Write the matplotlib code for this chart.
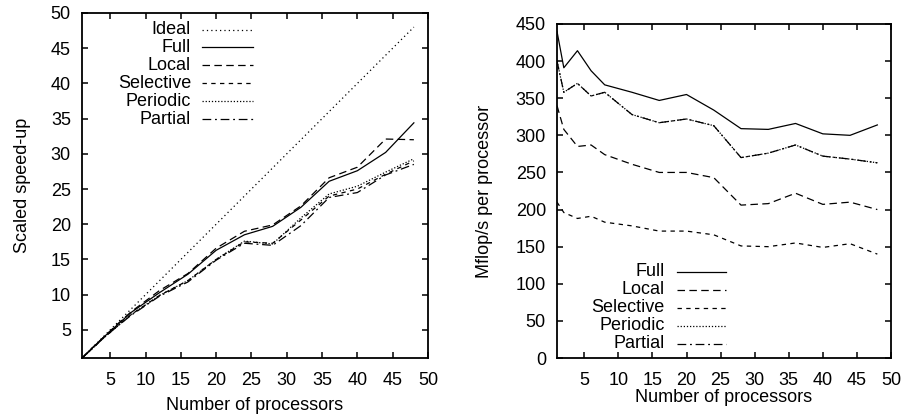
import numpy as np
import matplotlib
matplotlib.use('Agg')
import matplotlib.pyplot as plt

plt.rcParams['font.family'] = ['Liberation Sans', 'DejaVu Sans']
plt.rcParams['font.size'] = 13

# processor counts
procs = [1, 2, 4, 6, 8, 12, 16, 20, 24, 28, 32, 36, 40, 44, 48]

# left: scaled speed-up
ideal = procs
sp_full = [1, 2.0, 3.9, 5.7, 7.5, 10.3, 12.9, 16.3, 18.5, 19.7, 22.4, 26.1, 27.6, 30.2, 34.4]
sp_local = [1, 2.0, 3.9, 5.8, 7.6, 10.6, 13.0, 16.6, 19.0, 19.9, 22.6, 26.6, 28.1, 32.1, 32.0]
sp_selective = [1, 1.9, 3.8, 5.5, 7.2, 9.9, 12.0, 15.0, 17.5, 17.3, 20.6, 24.0, 25.0, 27.1, 29.0]
sp_periodic = [1, 1.9, 3.8, 5.5, 7.2, 9.9, 12.0, 15.0, 17.6, 17.2, 20.9, 24.3, 25.4, 27.4, 29.3]
sp_partial = [1, 1.9, 3.8, 5.5, 7.1, 9.8, 11.8, 14.9, 17.3, 17.0, 19.8, 23.8, 24.5, 27.0, 28.5]

# right: Mflop/s per processor
mf_full = [440, 391, 414, 387, 368, 358, 347, 355, 334, 309, 308, 316, 302, 300, 314]
mf_local = [340, 308, 285, 287, 274, 261, 250, 250, 243, 206, 208, 222, 207, 210, 200]
mf_selective = [210, 196, 188, 191, 183, 178, 171, 171, 166, 151, 150, 155, 149, 154, 140]
mf_periodic = [400, 358, 370, 353, 358, 328, 317, 322, 313, 270, 276, 287, 272, 268, 263]
mf_partial = [400, 358, 370, 353, 358, 328, 317, 322, 313, 270, 276, 287, 272, 268, 263]

styles = {
    'Ideal': (0, (1, 2.5)),
    'Full': '-',
    'Local': (0, (6, 3.5)),
    'Selective': (0, (3.5, 3.5)),
    'Periodic': (0, (1, 1.5)),
    'Partial': (0, (7, 3, 1.5, 3)),
}

fig = plt.figure(figsize=(9.06, 4.15), dpi=100)
ax1 = fig.add_axes([0.0905, 0.1373, 0.3819, 0.8314])
ax2 = fig.add_axes([0.6148, 0.1373, 0.3686, 0.8049])

LW = 0.9


def style_axes(ax):
    for s in ax.spines.values():
        s.set_linewidth(1.3)
    ax.tick_params(direction='in', length=4, width=1.1, top=True, right=True,
                   labelsize=13)
    ax.tick_params(axis='x', pad=10)
    ax.tick_params(axis='y', pad=8)


def legend(ax, names, xtext, xl0, xl1, ytop, dy):
    for i, name in enumerate(names):
        y = ytop - i * dy
        ax.text(xtext, y, name, transform=ax.transAxes, ha='right', va='center',
                fontsize=13)
        ax.plot([xl0, xl1], [y, y], transform=ax.transAxes, color='black',
                lw=LW, ls=styles[name], clip_on=False)


# left panel
series1 = [('Ideal', ideal), ('Full', sp_full), ('Local', sp_local),
           ('Selective', sp_selective), ('Periodic', sp_periodic), ('Partial', sp_partial)]
for name, vals in series1:
    ax1.plot(procs, vals, color='black', lw=LW, ls=styles[name])
ax1.set_xlim(1, 50)
ax1.set_ylim(1, 50)
ax1.set_xticks(np.arange(5, 51, 5))
ax1.set_yticks(np.arange(5, 51, 5))
style_axes(ax1)
ax1.set_xlabel('Number of processors', labelpad=5.5)
ax1.set_ylabel('Scaled speed-up', labelpad=14.5)
legend(ax1, [n for n, _ in series1], 0.315, 0.348, 0.493, 0.952, 0.052)

# right panel
series2 = [('Full', mf_full), ('Local', mf_local), ('Selective', mf_selective),
           ('Periodic', mf_periodic), ('Partial', mf_partial)]
for name, vals in series2:
    ax2.plot(procs, vals, color='black', lw=LW, ls=styles[name])
ax2.set_xlim(1, 50)
ax2.set_ylim(0, 450)
ax2.set_xticks(np.arange(5, 51, 5))
ax2.set_yticks(np.arange(0, 451, 50))
style_axes(ax2)
ax2.set_xlabel('Number of processors', labelpad=0)
ax2.set_ylabel('Mflop/s per processor', labelpad=16)
legend(ax2, [n for n, _ in series2], 0.323, 0.36, 0.506, 0.258, 0.054)

fig.savefig('out.png', dpi=100)
